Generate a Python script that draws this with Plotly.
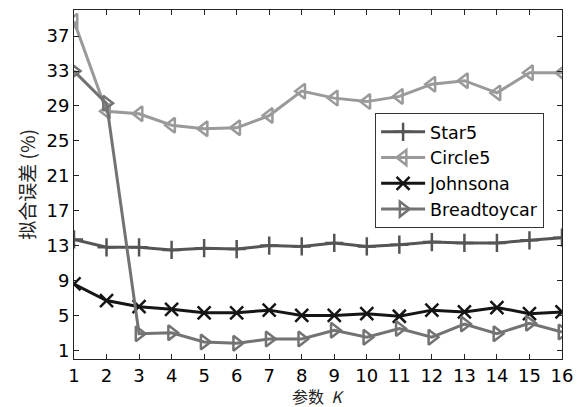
import plotly.graph_objects as go

K = list(range(1, 17))
star5 = [13.7, 12.8, 12.8, 12.5, 12.7, 12.6, 13.0, 12.9, 13.3, 12.9, 13.1, 13.4, 13.3, 13.3, 13.6, 13.9]
circle5 = [38.7, 28.4, 28.1, 26.8, 26.4, 26.5, 27.9, 30.7, 29.9, 29.5, 30.1, 31.5, 31.9, 30.5, 32.8, 32.8]
johnsona = [8.6, 6.7, 6.0, 5.7, 5.3, 5.3, 5.6, 5.0, 5.0, 5.2, 4.9, 5.6, 5.4, 5.9, 5.2, 5.4]
breadtoycar = [33.0, 29.3, 2.9, 3.0, 1.95, 1.8, 2.3, 2.3, 3.3, 2.5, 3.5, 2.5, 4.0, 2.9, 4.1, 3.1]
y_ticks = [1, 5, 9, 13, 17, 21, 25, 29, 33, 37]

series = [
    ("Star5", star5, "#555555", "cross-thin-open"),
    ("Circle5", circle5, "#9a9a9a", "triangle-left-open"),
    ("Johnsona", johnsona, "#151515", "x-thin-open"),
    ("Breadtoycar", breadtoycar, "#737373", "triangle-right-open"),
]

fig = go.Figure()
for name, vals, col, sym in series:
    fig.add_trace(go.Scatter(
        x=K, y=vals, name=name, mode="lines+markers",
        line=dict(color=col, width=3),
        marker=dict(symbol=sym, size=13, color=col, line=dict(color=col, width=2.5)),
    ))

font = "DejaVu Sans, sans-serif"
fig.update_layout(
    width=582, height=407,
    margin=dict(l=74, r=20, t=10, b=48),
    plot_bgcolor="white", paper_bgcolor="white",
    font=dict(family=font, size=18, color="black"),
    showlegend=True,
    legend=dict(
        x=0.617, y=0.705, xanchor="left", yanchor="top",
        bgcolor="white", bordercolor="#333333", borderwidth=1,
        font=dict(size=17.5, family=font), itemwidth=44, tracegroupgap=0,
    ),
)
fig.update_xaxes(
    range=[1, 16], tickvals=K, ticks="inside", ticklen=5, tickcolor="#222",
    showline=True, linecolor="#222", linewidth=1, mirror="ticks",
    showgrid=False, zeroline=False, tickfont=dict(size=18),
)
fig.update_yaxes(
    range=[0, 40], tickvals=y_ticks, ticks="inside", ticklen=5, tickcolor="#222",
    showline=True, linecolor="#222", linewidth=1, mirror="ticks",
    showgrid=False, zeroline=False, tickfont=dict(size=18),
)
fig.add_annotation(
    xref="paper", yref="paper", x=-0.098, y=0.5, xanchor="center", yanchor="middle",
    text="拟合误差 (%)", textangle=-90, showarrow=False,
    font=dict(size=19, family="Noto Sans CJK SC, sans-serif", color="#222"),
)
fig.add_annotation(
    xref="paper", yref="paper", x=0.5, y=-0.105, xanchor="center", yanchor="middle",
    text="参数  <i>K</i>", showarrow=False,
    font=dict(size=16, family="Noto Sans CJK SC, sans-serif", color="#222"),
)
fig.write_html("out.html", config={"displayModeBar": False},
               post_script="document.body.style.margin='0';")
